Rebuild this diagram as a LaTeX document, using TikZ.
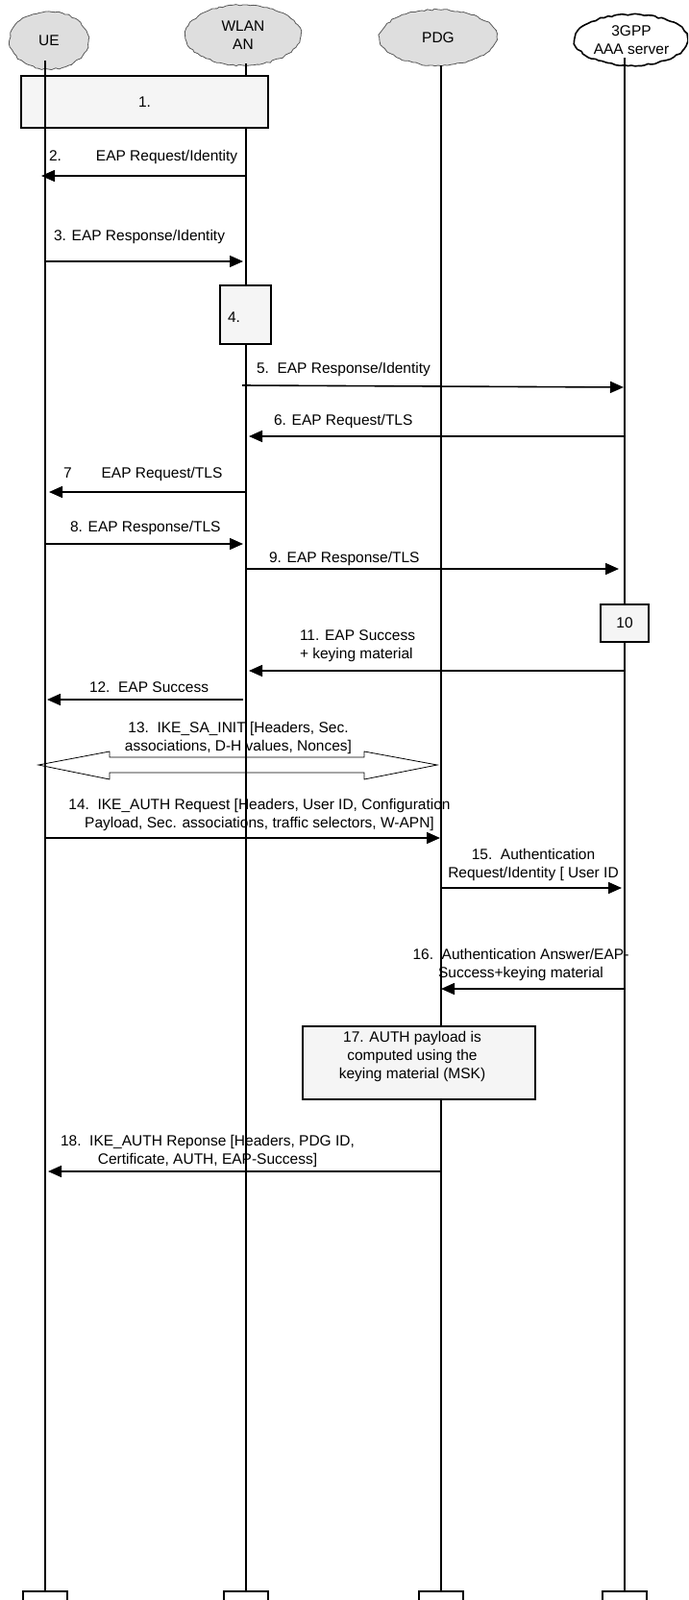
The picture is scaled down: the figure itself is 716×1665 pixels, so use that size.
\documentclass[tikz,border=0pt]{standalone}
\usepackage{fontspec}
\setmainfont{Liberation Sans}
\usetikzlibrary{arrows.meta,shapes.geometric,decorations.pathmorphing}
\begin{document}
\begin{tikzpicture}[x=1pt,y=-1pt,
  every node/.style={font=\fontsize{15.5}{19}\selectfont, inner sep=0pt, outer sep=0pt},
  actor/.style={ellipse, draw=black!65, fill=black!13, line width=0.8pt, align=center,
     decorate, decoration={random steps, segment length=3.5pt, amplitude=0.9pt}},
  aaa/.style={actor, fill=white, draw=black, line width=1.6pt},
  life/.style={line width=2pt},
  msg/.style={line width=1.6pt, -{Triangle[length=14pt,width=12pt]}},
  procbox/.style={draw, line width=2pt, fill=black!4},
  endbox/.style={draw, line width=2pt, fill=white, minimum width=46pt, minimum height=24pt, anchor=north},
  lbl/.style={anchor=base west},
  clbl/.style={align=center},
  ike/.style={draw, line width=0.8pt}
]
\useasboundingbox (0,0) rectangle (716,1665);
\clip (0,0) rectangle (716,1665);

% actors
\node[actor, minimum width=82pt, minimum height=60pt] (ue) at (51,42) {UE};
\node[actor, minimum width=120pt, minimum height=63pt] (wlan) at (253,36.5) {WLAN\\AN};
\node[actor, minimum width=122pt, minimum height=58pt] (pdg) at (456,39) {PDG};
\node[aaa, minimum width=118pt, minimum height=53pt] (aaa) at (657,41.5) {3GPP\\AAA server};

% lifeline ends
\coordinate (ueT) at (47,63);     \coordinate (ueB) at (47,1656);
\coordinate (wlanT) at (256,66);  \coordinate (wlanB) at (256,1656);
\coordinate (pdgT) at (459,68);   \coordinate (pdgB) at (459,1656);
\coordinate (aaaT) at (650,60);   \coordinate (aaaB) at (650,1656);
\node[endbox] (ueE) at (ueB) {};
\node[endbox] (wlanE) at (wlanB) {};
\node[endbox] (pdgE) at (pdgB) {};
\node[endbox] (aaaE) at (aaaB) {};

\draw[life] (wlanT) -- (wlanE.north);
\draw[life] (pdgT) -- (pdgE.north);
\draw[life] (aaaT) -- (aaaE.north);

% process boxes
\node[procbox, minimum width=257pt, minimum height=54pt] (b1) at (150.5,106) {1.};
\node[procbox, minimum width=53pt, minimum height=61pt] (b4) at (255.5,327.5) {};
\node[lbl] (t4) at (237,335.5) {4.};
\node[procbox, minimum width=50pt, minimum height=39pt] (b10) at (650,648.5) {10};
\node[procbox, minimum width=242pt, minimum height=76pt] (b17) at (436,1106) {};
\node[clbl] (t17) at (429,1099.5) {17. AUTH payload is\\computed using the\\keying material (MSK)};

\draw[life] (ueT) -- (ueE.north);

% message end points
\coordinate (m2a) at (256,183);   \coordinate (m2b) at (43,183);
\coordinate (m3a) at (47,272);    \coordinate (m3b) at (253,272);
\coordinate (m5a) at (252,401);   \coordinate (m5b) at (649,403);
\coordinate (m6a) at (650,454);   \coordinate (m6b) at (259,454);
\coordinate (m7a) at (256,512);   \coordinate (m7b) at (51,512);
\coordinate (m8a) at (47,566);    \coordinate (m8b) at (253,566);
\coordinate (m9a) at (256,592);   \coordinate (m9b) at (644,592);
\coordinate (m11a) at (650,698);  \coordinate (m11b) at (259,698);
\coordinate (m12a) at (253,728);  \coordinate (m12b) at (49,728);
\coordinate (m14a) at (47,872);   \coordinate (m14b) at (458,872);
\coordinate (m15a) at (459,924);  \coordinate (m15b) at (647,924);
\coordinate (m16a) at (650,1029); \coordinate (m16b) at (459,1029);
\coordinate (m18a) at (459,1219); \coordinate (m18b) at (50,1219);

\draw[msg] (m2a) -- (m2b);
\draw[msg] (m3a) -- (m3b);
\draw[msg] (m5a) -- (m5b);
\draw[msg] (m6a) -- (m6b);
\draw[msg] (m7a) -- (m7b);
\draw[msg] (m8a) -- (m8b);
\draw[msg] (m9a) -- (m9b);
\draw[msg] (m11a) -- (m11b);
\draw[msg] (m12a) -- (m12b);
\draw[msg] (m14a) -- (m14b);
\draw[msg] (m15a) -- (m15b);
\draw[msg] (m16a) -- (m16b);
\draw[msg] (m18a) -- (m18b);

% IKE_SA_INIT double arrow
\draw[ike] (40,796) -- (114,782) -- (114,788) -- (379,788) -- (379,782) -- (455,796)
  -- (379,811) -- (379,804) -- (114,804) -- (114,811) -- cycle;

% labels
\node[lbl] (t2) at (51,167.5) {2.\hspace{36pt}EAP Request/Identity};
\node[lbl] (t3) at (56,250.5) {3. EAP Response/Identity};
\node[lbl] (t5) at (267,388.5) {5.\ \ EAP Response/Identity};
\node[lbl] (t6) at (285,442.5) {6. EAP Request/TLS};
\node[lbl] (t7) at (66,497.5) {7\hspace{31pt}EAP Request/TLS};
\node[lbl] (t8) at (73,553.5) {8. EAP Response/TLS};
\node[lbl] (t9) at (280,585.5) {9. EAP Response/TLS};
\node[anchor=west, align=left] (t11) at (312,672.5) {11. EAP Success\\+ keying material};
\node[lbl] (t12) at (93,720.5) {12.\ \ EAP Success};
\node[clbl] (t13) at (248,768) {13.\ \ IKE\_SA\_INIT [Headers, Sec.\\associations, D-H values, Nonces]};
\node[clbl] (t14) at (270,848) {14.\ \ IKE\_AUTH Request [Headers, User ID, Configuration\\Payload, Sec. associations, traffic selectors, W-APN]};
\node[clbl] (t15) at (555,899.5) {15.\ \ Authentication\\Request/Identity [ User ID};
\node[clbl] (t16) at (542,1004) {16.\ \ Authentication Answer/EAP-\\Success+keying material};
\node[clbl] (t18) at (216,1198) {18.\ \ IKE\_AUTH Reponse [Headers, PDG ID,\\Certificate, AUTH, EAP-Success]};
\end{tikzpicture}
\end{document}
